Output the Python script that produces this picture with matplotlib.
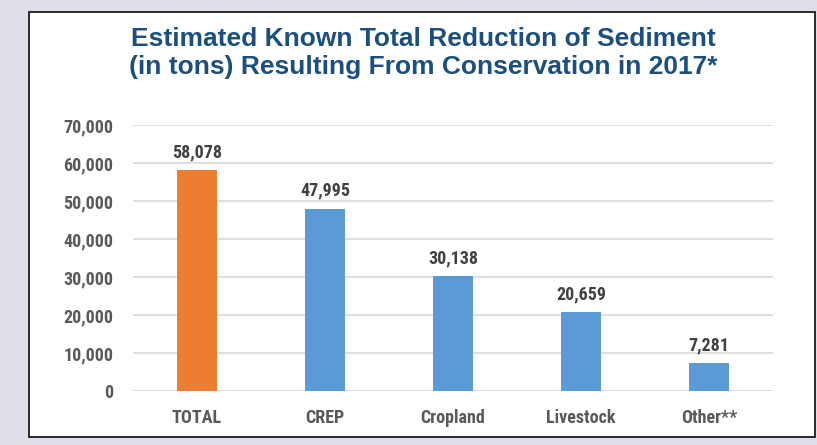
import numpy as np
import matplotlib.pyplot as plt
from matplotlib.patches import Rectangle
from matplotlib import font_manager

categories = ['TOTAL', 'CREP', 'Cropland', 'Livestock', 'Other**']
values = [58078, 47995, 30138, 20659, 7281]
bar_colors = ['#ED7D31', '#5B9BD5', '#5B9BD5', '#5B9BD5', '#5B9BD5']
yticks = np.arange(0, 70001, 10000)

# condensed bold font for labels, fall back to Arial-metric Liberation Sans
names = {f.name for f in font_manager.fontManager.ttflist}
narrow = 'Liberation Sans'
for cand in ['Liberation Sans Narrow', 'Roboto Condensed', 'Arial Narrow']:
    if cand in names:
        narrow = cand
        break

fig = plt.figure(figsize=(8.17, 4.45), dpi=100)
fig.patch.set_facecolor('#DEDEE8')

W, H = 817, 445
# white panel with dark border
fig.patches.append(Rectangle((29 / W, 1 - 437 / H), (815 - 29) / W, (437 - 12) / H,
                             transform=fig.transFigure, facecolor='white',
                             edgecolor='#1a1a1a', linewidth=1.3, zorder=-5))

ax = fig.add_axes([133 / W, 1 - 391 / H, (773 - 133) / W, (391 - 125) / H])
ax.set_zorder(2)
ax.set_facecolor('none')
x = np.arange(len(categories))
ax.bar(x, values, width=0.32, color=bar_colors, zorder=3)
for xi, v in zip(x, values):
    ax.text(xi, v + 2300, f'{v:,}', ha='center', va='bottom', fontsize=13,
            fontweight='bold', color='#404040', family=narrow)

ax.set_xlim(-0.5, 4.5)
ax.set_ylim(0, 70000)
ax.set_yticks(yticks)
ax.set_yticklabels([f'{t:,}' for t in yticks], fontsize=13, fontweight='bold',
                   color='#595959', family=narrow)
ax.set_xticks(x)
ax.set_xticklabels(categories, fontsize=13, fontweight='bold', color='#595959',
                   family=narrow)
ax.tick_params(axis='both', length=0)
ax.tick_params(axis='y', pad=14)
ax.tick_params(axis='x', pad=13)
ax.grid(axis='y', color='#D9D9D9', linewidth=1.2, zorder=0)
for s in ax.spines.values():
    s.set_visible(False)

fig.text(423 / W, 1 - 53 / H,
         'Estimated Known Total Reduction of Sediment\n(in tons) Resulting From Conservation in 2017*',
         ha='center', va='center', fontsize=19, fontweight='bold', color='#1B4F7F',
         family='Liberation Sans', linespacing=1.22)

plt.savefig('out.png', dpi=100, facecolor=fig.get_facecolor())
